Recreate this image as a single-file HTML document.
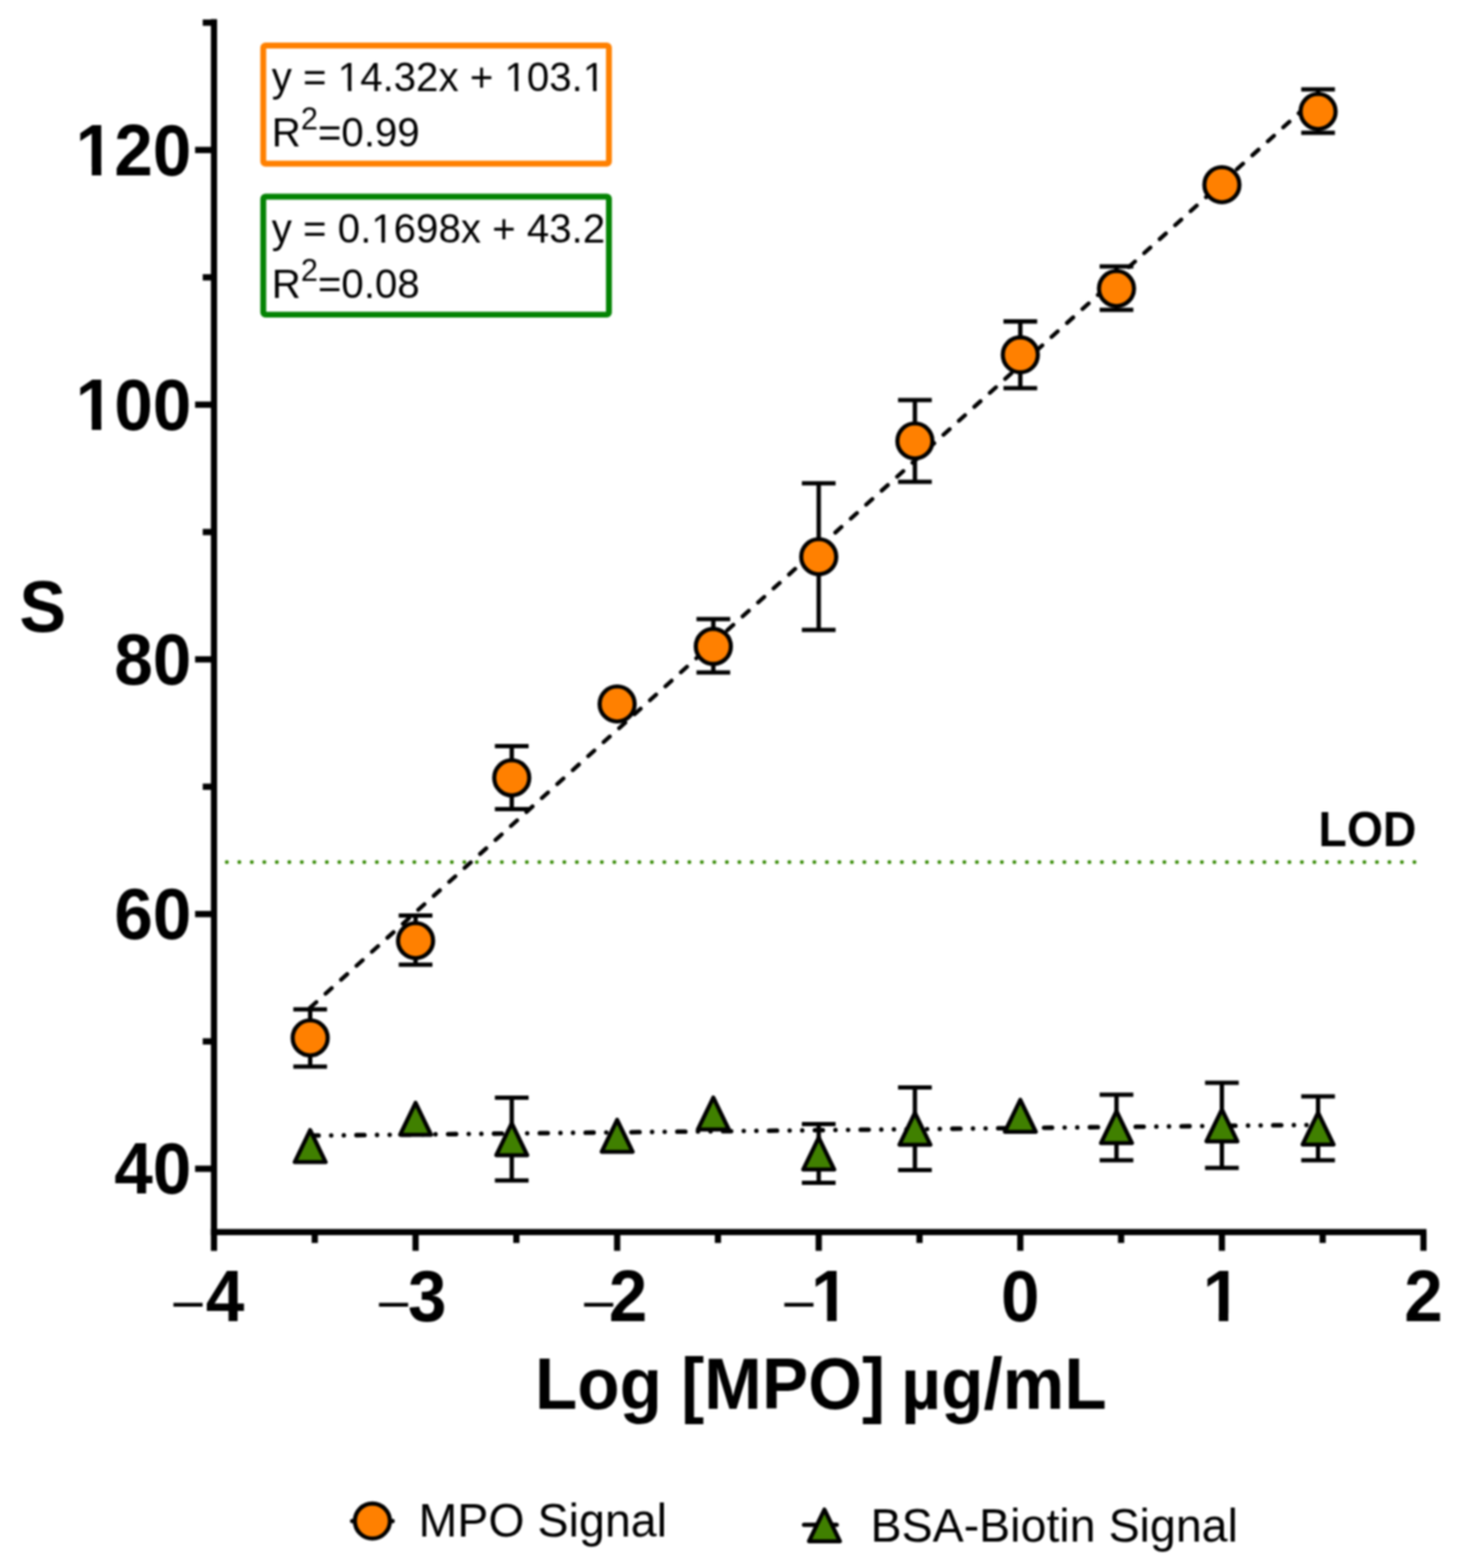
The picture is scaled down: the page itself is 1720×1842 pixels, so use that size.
<!DOCTYPE html>
<html lang="en"><head><meta charset="utf-8"><title>MPO calibration curve</title>
<style>html,body{margin:0;padding:0;background:#fff}body{width:1720px;height:1842px;overflow:hidden}svg{display:block}</style>
</head><body>
<svg width="1720" height="1842" viewBox="0 0 1720 1842" style="font-kerning:none">
<defs><filter id="soft" filterUnits="userSpaceOnUse" x="0" y="0" width="1720" height="1842" color-interpolation-filters="sRGB"><feGaussianBlur stdDeviation="0.85"/></filter><clipPath id="k1"><path clip-rule="evenodd" d="M-155.98 -97.80H20.00V40.75H-155.98ZM-132.85 -8.92H-116.96V3H-132.85ZM-105.77 -8.92H-90.92V3H-105.77Z"/></clipPath><clipPath id="k2"><path clip-rule="evenodd" d="M-155.98 -97.80H20.00V40.75H-155.98ZM-132.85 -8.92H-116.96V3H-132.85ZM-105.77 -8.92H-90.92V3H-105.77Z"/></clipPath><clipPath id="k3"><path clip-rule="evenodd" d="M-42.66 -97.80H42.66V40.75H-42.66ZM-19.53 -8.92H-3.64V3H-19.53ZM7.54 -8.92H22.39V3H7.54Z"/></clipPath><clipPath id="k4"><path clip-rule="evenodd" d="M-42.66 -97.80H42.66V40.75H-42.66ZM-19.53 -8.92H-3.64V3H-19.53ZM7.54 -8.92H22.39V3H7.54Z"/></clipPath><clipPath id="k5"><path clip-rule="evenodd" d="M-20.00 -56.76H411.84V23.65H-20.00ZM79.16 -4.13H89.45V3H79.16ZM93.63 -4.13H103.55V3H93.63ZM275.08 -4.13H285.37V3H275.08ZM289.55 -4.13H299.47V3H289.55ZM367.14 -4.13H377.43V3H367.14ZM381.61 -4.13H391.53V3H381.61Z"/></clipPath><clipPath id="k6"><path clip-rule="evenodd" d="M-20.00 -56.76H411.84V23.65H-20.00ZM118.61 -4.13H128.90V3H118.61ZM133.08 -4.13H143.00V3H133.08Z"/></clipPath></defs>
<rect width="1720" height="1842" fill="#fff"/>
<g filter="url(#soft)">
<line x1="266.5" y1="1012.7" x2="1663" y2="1012.7" stroke="#338800" stroke-width="4.6" stroke-linecap="round" stroke-dasharray="0 14.687"/>
<g stroke="#000" stroke-width="7.3" fill="none" stroke-linecap="butt">
<path d="M251.4 22.6V1469.4"/>
<path d="M247.75 1447.4H1675.9"/>
<path d="M229.2 1373.00H251.4" stroke-width="7.4"/>
<path d="M229.2 1073.80H251.4" stroke-width="7.4"/>
<path d="M229.2 774.60H251.4" stroke-width="7.4"/>
<path d="M229.2 475.40H251.4" stroke-width="7.4"/>
<path d="M229.2 176.20H251.4" stroke-width="7.4"/>
<path d="M238.2 1223.40H251.4" stroke-width="7.4"/>
<path d="M238.2 924.20H251.4" stroke-width="7.4"/>
<path d="M238.2 625.00H251.4" stroke-width="7.4"/>
<path d="M238.2 325.80H251.4" stroke-width="7.4"/>
<path d="M238.2 26.60H251.4" stroke-width="7.4"/>
<path d="M488.24 1447.4V1469.4"/>
<path d="M725.07 1447.4V1469.4"/>
<path d="M961.90 1447.4V1469.4"/>
<path d="M1198.73 1447.4V1469.4"/>
<path d="M1435.56 1447.4V1469.4"/>
<path d="M1672.39 1447.4V1469.4"/>
<path d="M369.82 1447.4V1460.2"/>
<path d="M606.65 1447.4V1460.2"/>
<path d="M843.49 1447.4V1460.2"/>
<path d="M1080.32 1447.4V1460.2"/>
<path d="M1317.14 1447.4V1460.2"/>
<path d="M1553.97 1447.4V1460.2"/>
</g>
<g font-family="'Liberation Sans', Arial, sans-serif" font-weight="bold" font-size="81.5" fill="#000">
<text transform="translate(224.80 1402.30) scale(1 1.037)" text-anchor="end">40</text>
<text transform="translate(224.80 1103.10) scale(1 1.037)" text-anchor="end">60</text>
<text transform="translate(224.80 803.90) scale(1 1.037)" text-anchor="end">80</text>
<text transform="translate(224.80 504.70) scale(1 1.037)" text-anchor="end" clip-path="url(#k1)">100</text>
<text transform="translate(224.80 205.50) scale(1 1.037)" text-anchor="end" clip-path="url(#k2)">120</text>
<text x="203.76" y="1549.8" font-weight="normal" font-size="66" textLength="34.3" lengthAdjust="spacingAndGlyphs">–</text>
<text transform="translate(264.41 1552.20) scale(1 1.037)" text-anchor="middle">4</text>
<text x="445.34" y="1549.8" font-weight="normal" font-size="66" textLength="34.3" lengthAdjust="spacingAndGlyphs">–</text>
<text transform="translate(501.84 1552.20) scale(1 1.037)" text-anchor="middle">3</text>
<text x="686.37" y="1549.8" font-weight="normal" font-size="66" textLength="34.3" lengthAdjust="spacingAndGlyphs">–</text>
<text transform="translate(737.97 1552.20) scale(1 1.037)" text-anchor="middle">2</text>
<text x="921.40" y="1549.8" font-weight="normal" font-size="66" textLength="34.3" lengthAdjust="spacingAndGlyphs">–</text>
<text transform="translate(975.40 1552.20) scale(1 1.037)" text-anchor="middle" clip-path="url(#k3)">1</text>
<text transform="translate(1198.73 1552.20) scale(1 1.037)" text-anchor="middle">0</text>
<text transform="translate(1435.56 1552.20) scale(1 1.037)" text-anchor="middle" clip-path="url(#k4)">1</text>
<text transform="translate(1672.39 1552.20) scale(1 1.037)" text-anchor="middle">2</text>
</g>
<g font-family="'Liberation Sans', Arial, sans-serif" font-weight="bold" fill="#000">
<text transform="translate(50.30 741.70) scale(1 1.037)" font-size="82.5" text-anchor="middle">S</text>
<text transform="translate(628.50 1655.00) scale(1 1.055)" font-size="81.4">Log [MPO] <tspan dx="-3.6">µg/mL</tspan></text>
<text transform="translate(1606.60 993.80) scale(1 1.037)" font-size="54.5" text-anchor="middle">LOD</text>
</g>
<rect x="309.3" y="53.5" width="406.1" height="138.7" rx="2.5" fill="#fff" stroke="#FF8000" stroke-width="6.9"/>
<rect x="309.3" y="231" width="406.1" height="138.6" rx="2.5" fill="#fff" stroke="#038303" stroke-width="6.9"/>
<g font-family="'Liberation Sans', Arial, sans-serif" font-size="47.3" fill="#000">
<text transform="translate(319.30 107.00) scale(1 1.015)" clip-path="url(#k5)">y = 14.32x + 103.1</text>
<text transform="translate(319.30 171.90) scale(1 1.015)">R<tspan font-size="36" dy="-19.3">2</tspan><tspan dy="19.3">=0.99</tspan></text>
<text transform="translate(319.30 284.60) scale(1 1.015)" clip-path="url(#k6)">y = 0.1698x + 43.2</text>
<text transform="translate(319.30 349.90) scale(1 1.015)">R<tspan font-size="36" dy="-19.3">2</tspan><tspan dy="19.3">=0.08</tspan></text>
</g>
<line x1="364.41" y1="1183.72" x2="1548.56" y2="112.58" stroke="#000" stroke-width="4.8" stroke-linecap="round" stroke-dasharray="9.7 14.77"/>
<line x1="364.41" y1="1334.08" x2="1548.56" y2="1321.38" stroke="#000" stroke-width="5.3" stroke-linecap="round" stroke-dasharray="9.4 14.82 0 14.82 0 14.82" stroke-dashoffset="-0.5"/>
<g stroke="#000" stroke-width="5.1" fill="none">
<path d="M364.41 1185.75V1253M344.61 1185.75H384.21M344.61 1253H384.21"/>
<path d="M488.24 1075.5V1133.25M468.44 1075.5H508.04M468.44 1133.25H508.04"/>
<path d="M601.24 876.5V950.5M581.44 876.5H621.04M581.44 950.5H621.04"/>
<path d="M838.07 727.3V790M818.27 727.3H857.87M818.27 790H857.87"/>
<path d="M961.90 567.8V740M942.10 567.8H981.70M942.10 740H981.70"/>
<path d="M1074.90 470V566M1055.10 470H1094.70M1055.10 566H1094.70"/>
<path d="M1198.73 377.6V456M1178.93 377.6H1218.53M1178.93 456H1218.53"/>
<path d="M1311.73 313V364M1291.93 313H1331.53M1291.93 364H1331.53"/>
<path d="M1548.56 105V156M1528.76 105H1568.36M1528.76 156H1568.36"/>
<path d="M601.24 1289.5V1386.75M581.44 1289.5H621.04M581.44 1386.75H621.04"/>
<path d="M961.90 1320.5V1389.5M942.10 1320.5H981.70M942.10 1389.5H981.70"/>
<path d="M1074.90 1277.5V1374.5M1055.10 1277.5H1094.70M1055.10 1374.5H1094.70"/>
<path d="M1311.73 1286V1363M1291.93 1286H1331.53M1291.93 1363H1331.53"/>
<path d="M1435.56 1272V1372M1415.76 1272H1455.36M1415.76 1372H1455.36"/>
<path d="M1548.56 1288V1363M1528.76 1288H1568.36M1528.76 1363H1568.36"/>
</g>
<path d="M364.41 1327.60L382.61 1365.20H346.21Z" fill="#408000" stroke="#000" stroke-width="4.8" stroke-linejoin="round"/>
<path d="M488.24 1295.50L506.44 1333.10H470.04Z" fill="#408000" stroke="#000" stroke-width="4.8" stroke-linejoin="round"/>
<path d="M601.24 1319.50L619.44 1357.10H583.04Z" fill="#408000" stroke="#000" stroke-width="4.8" stroke-linejoin="round"/>
<path d="M725.07 1315.50L743.27 1353.10H706.87Z" fill="#408000" stroke="#000" stroke-width="4.8" stroke-linejoin="round"/>
<path d="M838.07 1289.30L856.27 1326.90H819.87Z" fill="#408000" stroke="#000" stroke-width="4.8" stroke-linejoin="round"/>
<path d="M961.90 1336.30L980.10 1373.90H943.70Z" fill="#408000" stroke="#000" stroke-width="4.8" stroke-linejoin="round"/>
<path d="M1074.90 1307.20L1093.10 1344.80H1056.70Z" fill="#408000" stroke="#000" stroke-width="4.8" stroke-linejoin="round"/>
<path d="M1198.73 1292.00L1216.93 1329.60H1180.53Z" fill="#408000" stroke="#000" stroke-width="4.8" stroke-linejoin="round"/>
<path d="M1311.73 1305.30L1329.93 1342.90H1293.53Z" fill="#408000" stroke="#000" stroke-width="4.8" stroke-linejoin="round"/>
<path d="M1435.56 1303.20L1453.76 1340.80H1417.36Z" fill="#408000" stroke="#000" stroke-width="4.8" stroke-linejoin="round"/>
<path d="M1548.56 1307.00L1566.76 1344.60H1530.36Z" fill="#408000" stroke="#000" stroke-width="4.8" stroke-linejoin="round"/>
<circle cx="364.41" cy="1219.25" r="20.6" fill="#FF8000" stroke="#000" stroke-width="4.9"/>
<circle cx="488.24" cy="1105" r="20.6" fill="#FF8000" stroke="#000" stroke-width="4.9"/>
<circle cx="601.24" cy="913.75" r="20.6" fill="#FF8000" stroke="#000" stroke-width="4.9"/>
<circle cx="725.07" cy="827" r="20.6" fill="#FF8000" stroke="#000" stroke-width="4.9"/>
<circle cx="838.07" cy="759.4" r="20.6" fill="#FF8000" stroke="#000" stroke-width="4.9"/>
<circle cx="961.90" cy="654" r="20.6" fill="#FF8000" stroke="#000" stroke-width="4.9"/>
<circle cx="1074.90" cy="518" r="20.6" fill="#FF8000" stroke="#000" stroke-width="4.9"/>
<circle cx="1198.73" cy="416.8" r="20.6" fill="#FF8000" stroke="#000" stroke-width="4.9"/>
<circle cx="1311.73" cy="339" r="20.6" fill="#FF8000" stroke="#000" stroke-width="4.9"/>
<circle cx="1435.56" cy="217" r="20.6" fill="#FF8000" stroke="#000" stroke-width="4.9"/>
<circle cx="1548.56" cy="131" r="20.6" fill="#FF8000" stroke="#000" stroke-width="4.9"/>
<line x1="413.8" y1="1786.8" x2="461.2" y2="1786.8" stroke="#000" stroke-width="5.2" stroke-linecap="round"/>
<circle cx="437.5" cy="1786.8" r="20.6" fill="#FF8000" stroke="#000" stroke-width="4.9"/>
<line x1="944.6" y1="1791.2" x2="983" y2="1791.2" stroke="#000" stroke-width="5" stroke-linecap="round"/>
<path d="M968.60 1773.30L986.80 1810.60H950.40Z" fill="#408000" stroke="#000" stroke-width="4.8" stroke-linejoin="round"/>
<g font-family="'Liberation Sans', Arial, sans-serif" font-size="54.7" fill="#000">
<text transform="translate(491.80 1805.00) scale(1 1.015)">MPO Signal</text>
<text transform="translate(1022.70 1810.60) scale(1 1.015)">BSA-Biotin Signal</text>
</g>
</g>
</svg>
</body></html>
